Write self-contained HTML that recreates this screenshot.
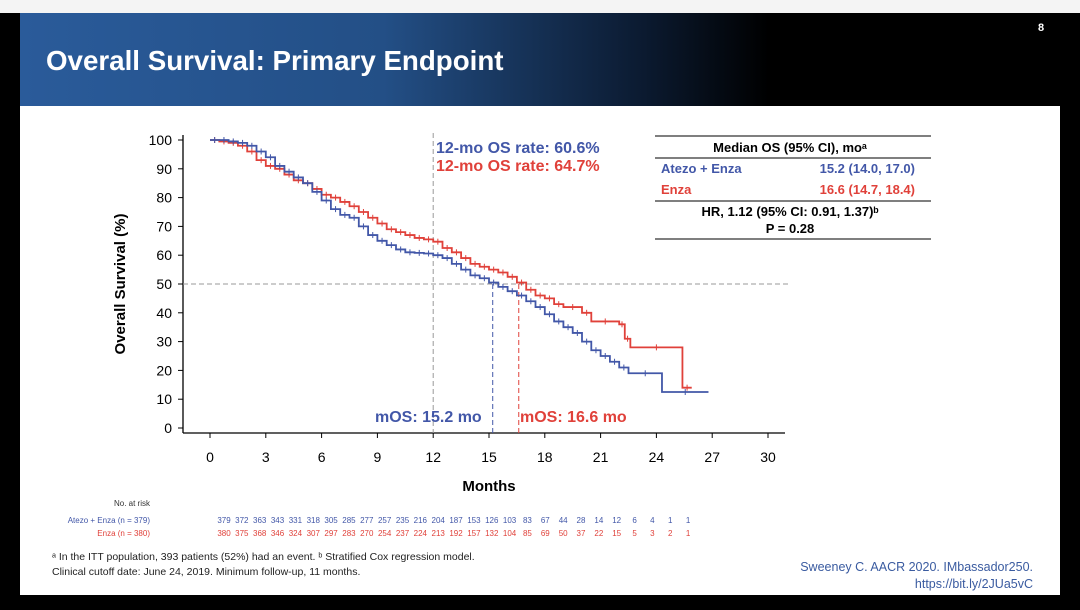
<!DOCTYPE html>
<html><head><meta charset="utf-8"><style>
body{margin:0;width:1080px;height:610px;overflow:hidden;background:#000;font-family:"Liberation Sans",sans-serif;position:relative}
.top{position:absolute;left:0;top:0;width:1080px;height:13px;background:#f4f4f4}
.slide{position:absolute;left:20px;top:13px;width:1040px;height:582px;background:#fff}
.hdr{position:absolute;left:20px;top:13px;width:1040px;height:93px;background:linear-gradient(90deg,#2a5b9a 0%,#234f86 35%,#0b1a30 60%,#000 72%)}
.abs{position:absolute}
</style></head><body>
<div class="top"></div>
<div class="slide"></div>
<div class="hdr"></div>
<div class="abs" style="left:46px;top:45px;color:#fff;font-size:28px;font-weight:bold;transform:scaleX(0.99);transform-origin:left">Overall Survival: Primary Endpoint</div>
<div class="abs" style="left:1038px;top:22px;color:#fff;font-size:11px;font-weight:bold">8</div>
<svg class="abs" style="left:0;top:0" width="1080" height="610">
<g id="g"></g>
</svg>
<script>
const blueT=[0,0.5,1,1.5,2,2.5,3,3.5,4,4.5,5,5.5,6,6.5,7,7.5,8,8.5,9,9.5,10,10.5,11,11.5,12,12.5,13,13.5,14,14.5,15,15.5,16,16.5,17,17.5,18,18.5,19,19.5,20,20.5,21,21.5,22,22.5,24.3,26.8];
const blueS=[100,100,99.5,99,98,96,94,91,89,87,85,82,79,76,74,73,70,67,65,63.5,62,61,60.8,60.6,60,59,57,55,53,52,50.5,49,47.5,46,44,42,39.5,37,35,33,30,27,25,23,21,19,12.5,12.5];
const redT=[0,0.5,1,1.5,2,2.5,3,3.5,4,4.5,5,5.5,6,6.5,7,7.5,8,8.5,9,9.5,10,10.5,11,11.5,12,12.5,13,13.5,14,14.5,15,15.5,16,16.5,17,17.5,18,18.5,19,20,20.5,22,22.3,22.6,25.4,25.9];
const redS=[100,99.5,99,98,96,93,91,90,88,86,85,83,81,80,78.5,77,75,73,71,69,68,67,66,65.5,64.7,62.5,61,59,57,56,55,54,52.5,50.5,48,46,45,43,42,40,37,36,31,28,14,14];
const xTicks=[0,3,6,9,12,15,18,21,24,27,30];
const yTicks=[0,10,20,30,40,50,60,70,80,90,100];
const riskA=[379,372,363,343,331,318,305,285,277,257,235,216,204,187,153,126,103,83,67,44,28,14,12,6,4,1,1];
const riskE=[380,375,368,346,324,307,297,283,270,254,237,224,213,192,157,132,104,85,69,50,37,22,15,5,3,2,1];
const X=m=>210+m*18.6, Y=v=>428-v*2.88;
const g=document.getElementById('g');const NS='http://www.w3.org/2000/svg';
function el(t,a,txt){const e=document.createElementNS(NS,t);for(const k in a)e.setAttribute(k,a[k]);if(txt!=null)e.textContent=txt;g.appendChild(e);return e;}
const BL='#4257a8',RD='#e0413a';
let e=el('line',{x1:183,y1:135,x2:183,y2:433,stroke:'#000','stroke-width':1.3});


e=el('line',{x1:183,y1:433,x2:785,y2:433,stroke:'#000','stroke-width':1.3});


yTicks.forEach(v=>{el('line',{x1:178,y1:Y(v),x2:183,y2:Y(v),stroke:'#000'});
e=el('text',{x:172,y:Y(v)+5,'text-anchor':'end','font-size':14},v);

});
xTicks.forEach(v=>{el('line',{x1:X(v),y1:433,x2:X(v),y2:438,stroke:'#000'});
e=el('text',{x:X(v),y:462,'text-anchor':'middle','font-size':14},v);

});
e=el('text',{x:489,y:491,'text-anchor':'middle','font-size':15,'font-weight':'bold'},'Months');


e=el('text',{x:125,y:284,'text-anchor':'middle','font-size':15,'font-weight':'bold',transform:'rotate(-90 125 284)'},'Overall Survival (%)');


el('line',{x1:183,y1:Y(50),x2:790,y2:Y(50),stroke:'#999','stroke-dasharray':'5,3'});
el('line',{x1:X(12),y1:133,x2:X(12),y2:433,stroke:'#999','stroke-dasharray':'5,3'});
el('line',{x1:X(15.2),y1:Y(50),x2:X(15.2),y2:433,stroke:BL,'stroke-dasharray':'5,3'});
el('line',{x1:X(16.6),y1:Y(50),x2:X(16.6),y2:433,stroke:RD,'stroke-dasharray':'5,3'});
function step(T,S,c,name){let d='M'+X(T[0])+','+Y(S[0]);for(let i=1;i<T.length;i++){d+='H'+X(T[i])+'V'+Y(S[i]);}
const p=el('path',{d:d,fill:'none',stroke:c,'stroke-width':1.8});


for(let i=0;i<T.length-1;i++){const m=(T[i]+T[i+1])/2;el('line',{x1:X(m),y1:Y(S[i])-3,x2:X(m),y2:Y(S[i])+3,stroke:c,'stroke-width':1});}}
step(redT,redS,RD,'enza-curve');
step(blueT,blueS,BL,'atezo-enza-curve');
const lab=(x,y,t,c,n)=>{const e=el('text',{x:x,y:y,'font-size':16,'font-weight':'bold',fill:c},t);};
lab(436,153,'12-mo OS rate: 60.6%',BL,'os-rate-atezo');
lab(436,171,'12-mo OS rate: 64.7%',RD,'os-rate-enza');
lab(375,422,'mOS: 15.2 mo',BL,'median-atezo');
lab(520,422,'mOS: 16.6 mo',RD,'median-enza');
[[655,136],[655,158],[655,201],[655,239]].forEach(([x,y])=>el('line',{x1:x,y1:y,x2:931,y2:y,stroke:'#333','stroke-width':1.2}));
const tt=(x,y,t,c,a,n)=>{const e=el('text',{x:x,y:y,'font-size':13,'font-weight':'bold',fill:c,'text-anchor':a||'start'},t);return e;};
tt(790,152,'Median OS (95% CI), mo\u1d43','#000','middle','table-header');
tt(661,173,'Atezo + Enza',BL,'start','table-atezo-label');
tt(915,173,'15.2 (14.0, 17.0)',BL,'end','table-atezo-value');
tt(661,194,'Enza',RD,'start','table-enza-label');
tt(915,194,'16.6 (14.7, 18.4)',RD,'end','table-enza-value');
tt(790,216,'HR, 1.12 (95% CI: 0.91, 1.37)\u1d47','#000','middle','hazard-ratio');
tt(790,233,'P = 0.28','#000','middle','p-value');
const sm=(x,y,t,c,a,n)=>{const e=el('text',{x:x,y:y,'font-size':8,fill:c,'text-anchor':a||'start'},t);};
sm(150,506,'No. at risk','#333','end','risk-title');
sm(150,523,'Atezo + Enza (n = 379)',BL,'end','risk-label-atezo');
sm(150,536,'Enza (n = 380)',RD,'end','risk-label-enza');
riskA.forEach((v,i)=>sm(224+i*17.85,523,v,BL,'middle','risk-atezo'));
riskE.forEach((v,i)=>sm(224+i*17.85,536,v,RD,'middle','risk-enza'));
const ft=(x,y,t,c,a,n,s)=>{const e=el('text',{x:x,y:y,'font-size':s||10.5,fill:c,'text-anchor':a||'start'},t);};
ft(52,560,'\u1d43 In the ITT population, 393 patients (52%) had an event. \u1d47 Stratified Cox regression model.','#222','start','footnote-1');
ft(52,575,'Clinical cutoff date: June 24, 2019. Minimum follow-up, 11 months.','#222','start','footnote-2');
ft(1033,571,'Sweeney C. AACR 2020. IMbassador250.','#3a5ba0','end','citation',12.5);
ft(1033,588,'https://bit.ly/2JUa5vC','#3a5ba0','end','citation-link',12.5);
</script>
</body></html>
